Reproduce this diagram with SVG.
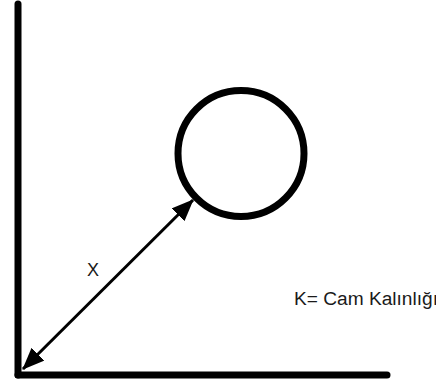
<svg xmlns="http://www.w3.org/2000/svg" width="436" height="385" viewBox="0 0 436 385">
  <style>
    .axis { stroke: #000; stroke-width: 7; stroke-linecap: round; fill: none; }
    .dim { stroke: #000; stroke-width: 3; fill: none; }
    .lbl { font-family: "Liberation Sans", Arial, sans-serif; fill: #1a1a1a; }
  </style>
  <defs>
    <marker id="head" markerUnits="userSpaceOnUse" viewBox="0 0 22 18" refX="21" refY="9" markerWidth="22" markerHeight="18" orient="auto-start-reverse">
      <path d="M0,0 L22,9 L0,18 z" fill="#000"/>
    </marker>
  </defs>
  <rect width="436" height="385" fill="#fff"/>
  <g id="axes">
    <line class="axis" x1="18" y1="4" x2="18" y2="375"/>
    <line class="axis" x1="18" y1="375" x2="387" y2="375"/>
  </g>
  <g id="circle">
    <circle cx="241" cy="153.5" r="63" fill="none" stroke="#000" stroke-width="7"/>
  </g>
  <g id="connectors">
    <line class="dim" x1="23" y1="369" x2="193" y2="200" marker-start="url(#head)" marker-end="url(#head)"/>
  </g>
  <g id="label-x">
    <text class="lbl" x="87" y="276" font-size="18">X</text>
  </g>
  <g id="label-k">
    <text class="lbl" x="294" y="305" font-size="18" textLength="144" lengthAdjust="spacingAndGlyphs">K= Cam Kalınlığı</text>
  </g>
</svg>
